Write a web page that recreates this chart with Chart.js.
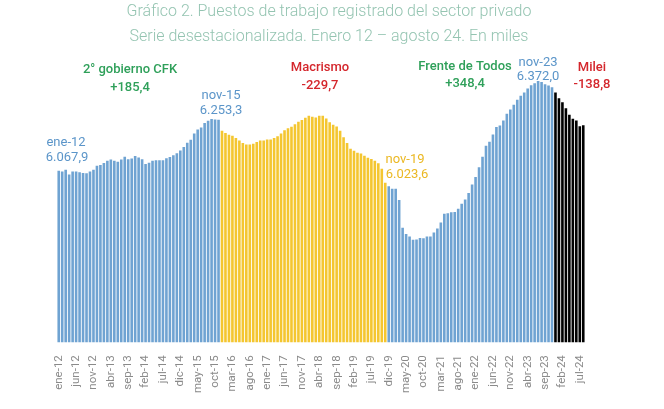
<!DOCTYPE html>
<html lang="es">
<head>
<meta charset="utf-8">
<title>Puestos de trabajo registrado del sector privado</title>
<script src="https://cdn.jsdelivr.net/npm/chart.js@4.4.1/dist/chart.umd.min.js"></script>
<style>
  html, body { margin: 0; padding: 0; background: #fff; }
</style>
</head>
<body>
<canvas id="empleoChart" width="664" height="409"></canvas>
<script>
// Serie desestacionalizada, en miles de puestos (ene-12 a ago-24)
const meses = ["ene", "feb", "mar", "abr", "may", "jun", "jul", "ago", "sep", "oct", "nov", "dic"];
const anios = ["12", "13", "14", "15", "16", "17", "18", "19", "20", "21", "22", "23", "24"];
const mesesUltimoAnio = 8; // hasta ago-24

// ene-12 a nov-15
const cfk2 = [6067.9, 6064.3, 6071.5, 6053.6, 6064.3, 6064.3, 6061.8, 6059.7, 6058.3, 6064.3,
  6071.5, 6085.8, 6088.3, 6095.4, 6103.6, 6108.2, 6103.6, 6100.0, 6108.2, 6118.9,
  6109.7, 6111.8, 6121.5, 6115.4, 6109.7, 6091.8, 6096.5, 6103.6, 6106.1, 6106.1,
  6106.1, 6113.2, 6117.9, 6124.0, 6131.1, 6141.1, 6153.6, 6169.6, 6180.4, 6203.6,
  6217.9, 6225.0, 6241.0, 6250.0, 6256.0, 6254.0, 6253.3];
// dic-15 a nov-19
const macrismo = [6213.2, 6204.6, 6198.9, 6195.3, 6186.8, 6177.5, 6168.9, 6163.2, 6163.2, 6165.4,
  6172.5, 6177.5, 6177.5, 6181.1, 6181.1, 6186.8, 6192.9, 6203.6, 6215.3, 6222.5,
  6227.5, 6236.8, 6246.4, 6252.5, 6260.7, 6267.8, 6264.3, 6261.8, 6267.8, 6267.8,
  6258.2, 6243.9, 6234.6, 6228.6, 6213.2, 6189.3, 6168.9, 6148.0, 6140.0, 6133.0,
  6130.0, 6122.0, 6115.0, 6110.0, 6104.0, 6095.0, 6075.0, 6023.6];
// dic-19 a nov-23
const frenteTodos = [6010.9, 6002.3, 6002.3, 5960.5, 5859.7, 5836.7, 5827.7, 5816.5, 5816.9, 5822.3,
  5821.2, 5828.4, 5828.4, 5842.8, 5857.2, 5878.8, 5911.2, 5913.0, 5916.6, 5917.3,
  5929.2, 5947.2, 5962.7, 5986.8, 6017.8, 6044.4, 6080.4, 6118.9, 6158.5, 6172.9,
  6199.2, 6226.9, 6232.7, 6250.7, 6274.8, 6290.3, 6308.3, 6326.3, 6340.7, 6352.9,
  6367.3, 6379.2, 6386.4, 6394.7, 6391.1, 6382.8, 6378.0, 6372.0];
// dic-23 a ago-24
const milei = [6352.9, 6331.3, 6316.9, 6295.3, 6271.2, 6256.8, 6250.7, 6230.0, 6233.2];

const periodos = [
  { valores: cfk2, color: "#6fa3d2" },
  { valores: macrismo, color: "#f4c630" },
  { valores: frenteTodos, color: "#6fa3d2" },
  { valores: milei, color: "#000000" },
];

// Armado de categorías y colores por barra
const categorias = [];
anios.forEach((a, i) => {
  const n = i === anios.length - 1 ? mesesUltimoAnio : 12;
  for (let m = 0; m < n; m++) categorias.push(meses[m] + "-" + a);
});
const valores = [];
const colores = [];
periodos.forEach((p) => {
  p.valores.forEach((v) => {
    valores.push(v);
    colores.push(p.color);
  });
});

const titulo = [
  "Gráfico 2. Puestos de trabajo registrado del sector privado",
  "Serie desestacionalizada. Enero 12 – agosto 24. En miles",
];

const VERDE = "#2fa05a", ROJO = "#d4262c", AZUL = "#5b95c9", AMARILLO = "#ebb823";
const notas = [
  { text: "2° gobierno CFK", x: 130, y: 70, color: VERDE, bold: true },
  { text: "+185,4", x: 130, y: 88, color: VERDE, bold: true },
  { text: "ene-12", x: 66, y: 143, color: AZUL },
  { text: "6.067,9", x: 67, y: 158, color: AZUL },
  { text: "nov-15", x: 221, y: 96, color: AZUL },
  { text: "6.253,3", x: 221, y: 111, color: AZUL },
  { text: "Macrismo", x: 320, y: 68, color: ROJO, bold: true },
  { text: "-229,7", x: 320, y: 86, color: ROJO, bold: true },
  { text: "nov-19", x: 405, y: 160, color: AMARILLO },
  { text: "6.023,6", x: 407, y: 175, color: AMARILLO },
  { text: "Frente de Todos", x: 465, y: 67, color: VERDE, bold: true },
  { text: "+348,4", x: 465, y: 84, color: VERDE, bold: true },
  { text: "nov-23", x: 538, y: 63, color: AZUL },
  { text: "6.372,0", x: 538, y: 77, color: AZUL },
  { text: "Milei", x: 592, y: 68, color: ROJO, bold: true },
  { text: "-138,8", x: 592, y: 85, color: ROJO, bold: true },
];

// Título y anotaciones dibujados sobre el canvas
const textosPlugin = {
  id: "textos",
  afterDraw(chart) {
    const ctx = chart.ctx;
    ctx.save();
    ctx.textAlign = "center";
    ctx.textBaseline = "middle";
    ctx.fillStyle = "#94c4b1";
    ctx.font = "300 16px Roboto";
    titulo.forEach((t, i) => ctx.fillText(t, 329, 12 + i * 25));
    notas.forEach((n) => {
      ctx.font = (n.bold ? "500 " : "400 ") + "13px Roboto";
      ctx.fillStyle = n.color;
      ctx.fillText(n.text, n.x, n.y);
    });
    ctx.restore();
  },
};

new Chart(document.getElementById("empleoChart"), {
  type: "bar",
  data: {
    labels: categorias,
    datasets: [
      {
        data: valores,
        backgroundColor: colores,
        barPercentage: 0.75,
        categoryPercentage: 1,
      },
    ],
  },
  options: {
    responsive: false,
    animation: false,
    layout: { padding: { top: 52, left: 57, right: 79, bottom: 11 } },
    plugins: {
      legend: { display: false },
      title: { display: false },
      tooltip: { enabled: false },
    },
    scales: {
      x: {
        grid: { display: false },
        border: { display: false },
        ticks: {
          autoSkip: false,
          maxRotation: 90,
          minRotation: 90,
          padding: 5,
          color: "#8a8a8a",
          font: { family: "Roboto", size: 11.5 },
          callback: function (val, i) {
            return i % 5 === 0 ? this.getLabelForValue(val) : "";
          },
        },
      },
      y: { display: false, min: 5443, max: 6500 },
    },
  },
  plugins: [textosPlugin],
});
</script>
</body>
</html>
